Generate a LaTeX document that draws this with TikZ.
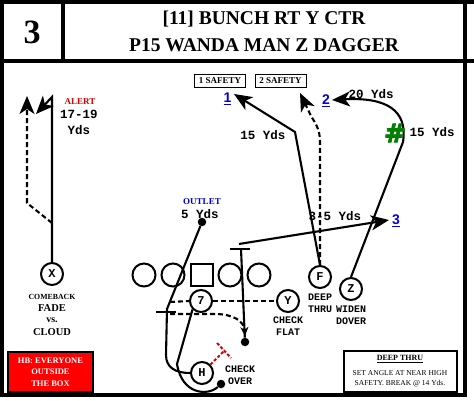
\documentclass[tikz,border=0pt]{standalone}
\usepackage{fontspec}
\setmainfont{Liberation Serif}
\newfontfamily\monofont{Liberation Mono}
\newfontfamily\sansfont{Liberation Sans}
\newfontfamily\heavyfont[FakeBold=3]{DejaVu Sans Bold}
\usetikzlibrary{arrows.meta}
\def\fs#1{\fontsize{#1}{#1}\selectfont}
\tikzset{
  player/.style={draw, circle, line width=2pt, fill=white, minimum size=22pt, inner sep=0pt, font=\monofont\bfseries\fs{12}},
  lineman/.style={draw, circle, line width=2pt, fill=white, minimum size=23pt, inner sep=0pt},
  snapper/.style={draw, line width=2pt, fill=white, minimum size=22pt, inner sep=0pt},
  ballspot/.style={circle, fill=black, minimum size=8.5pt, inner sep=0pt},
  route/.style={line width=2.1pt},
  dashroute/.style={line width=2.1pt, dash pattern=on 5pt off 3pt},
  arrowend/.style={-{Stealth[length=18pt,width=15pt,inset=5pt]}},
  yds/.style={inner sep=0pt, font=\monofont\bfseries\fs{12.5}},
  calltext/.style={inner sep=0pt, font=\monofont\bfseries\fs{10}},
  numlbl/.style={inner sep=0pt, text=blue!85!black, font=\sansfont\bfseries\fs{14}},
  safetybox/.style={draw, line width=0.9pt, minimum width=51pt, minimum height=13pt, inner sep=0pt, font=\bfseries\fs{9}},
  redblock/.style={red!85!black, line width=2pt, dash pattern=on 3pt off 2pt},
}
\begin{document}
\begin{tikzpicture}[x=1pt,y=-1pt]
\useasboundingbox (0,0) rectangle (474,401);
%%%%% FRAME %%%%%
\draw[line width=3.5pt] (2,2) -- (474,2);
\draw[line width=3.5pt] (2,61) -- (474,61);
\draw[line width=3.5pt] (2,2) rectangle (465,395);
\draw[line width=3.5pt] (63,2) -- (63,61);
\node[inner sep=0pt, font=\bfseries\fs{34}] (playnum) at (32,32) {3};
\node[inner sep=0pt, font=\bfseries\fs{19.5}] (titleA) at (264,19) {[11] BUNCH RT Y CTR};
\node[inner sep=0pt, font=\bfseries\fs{19.5}] (titleB) at (264,45) {P15 WANDA MAN Z DAGGER};

%%%%% PLAYERS %%%%%
\foreach \x/\n in {144/a,173/b,230/c,259/d}
  \node[lineman] (ol\n) at (\x,275) {};
\node[snapper] (C) at (202,275) {};
\node[player] (X) at (52,274) {X};
\node[player] (QB) at (201,301) {7};
\node[player] (Y) at (288,301) {Y};
\node[player] (F) at (320,277) {F};
\node[player] (Z) at (351,289) {Z};
\node[player] (H) at (202,373) {H};
\node[ballspot] (outlet) at (202,222) {};
\node[ballspot] (ydot) at (245,342) {};
\node[ballspot] (hdot) at (221,384) {};

%%%%% X %%%%%
\coordinate (xtop) at (52,97);
\coordinate (xend) at (36,114);
\coordinate (xsplit) at (52,223);
\coordinate (xcorner) at (27,203);
\coordinate (xfade) at (27,96);
\draw[route,arrowend] (X.north) -- (xtop) -- (xend);
\draw[dashroute,arrowend] (xsplit) -- (xcorner) -- (xfade);

%%%%% F %%%%%
\coordinate (fbreak) at (295,132);
\coordinate (one) at (234,94);
\coordinate (fstem) at (320,142);
\coordinate (twosafe) at (300,93);
\draw[route,arrowend] (F.north) -- (fbreak) -- (one);
\draw[dashroute,arrowend] (F.north) -- (fstem) .. controls (320,130) and (316,124) .. (311,116) -- (twosafe);

%%%%% Z %%%%%
\coordinate (zbreak) at (403,142);
\coordinate (two) at (332,100);
\draw[route,arrowend] (Z.north) -- (zbreak) .. controls (408,110) and (386,97) .. (two);

%%%%% TE block and 3 %%%%%
\coordinate (tstart) at (239,244);
\coordinate (three) at (389,220);
\coordinate (tleft) at (230,249);
\coordinate (tright) at (250,249);
\coordinate (tmid) at (241,249);
\draw[route,arrowend] (tstart) -- (three);
\draw[route] (tleft) -- (tright);
\draw[route] (tmid) -- (ydot);

%%%%% H and QB %%%%%
\coordinate (hbreak) at (167,309);
\coordinate (hdown) at (166,355);
\coordinate (barl) at (156,312);
\coordinate (barr) at (176,312);
\draw[route] (outlet) -- (hbreak) -- (hdown) .. controls (166,368) and (176,373) .. (H.west);
\draw[route] (barl) -- (barr);
\coordinate (qbdrop) at (177,364);
\draw[route] (QB.south west) -- (qbdrop) .. controls (182,395) and (208,396) .. (hdot);
\coordinate (dashA) at (170,302);
\coordinate (dashB) at (170,314);
\coordinate (curvestart) at (215,314);
\coordinate (curveend) at (245,336);
\draw[dashroute] (dashA) -- (QB.west);
\draw[dashroute] (QB.east) -- (Y.west);
\draw[dashroute,-{Stealth[length=9pt,width=8pt]}] (dashB) -- (curvestart) .. controls (233,314) and (244,321) .. (curveend);
\coordinate (redend) at (224,351);
\coordinate (redl) at (217,343);
\coordinate (redr) at (231,358);
\draw[redblock] (H.north east) -- (redend);
\draw[redblock] (redl) -- (redr);

%%%%% LABELS %%%%%
\node[safetybox] (safeA) at (220,80.5) {1 SAFETY};
\node[safetybox] (safeB) at (280.5,80.5) {2 SAFETY};
\node[numlbl] (numA) at (227.5,99) {\underline{1}};
\node[numlbl] (numB) at (326,101) {\underline{2}};
\node[numlbl] (numC) at (396,221) {\underline{3}};
\node[yds] (ydsA) at (263,135) {15 Yds};
\node[yds] (ydsB) at (371,94) {20 Yds};
\node[yds] (ydsC) at (432,132) {15 Yds};
\node[yds] (ydsD) at (335,216) {3-5 Yds};
\node[yds] (ydsE) at (200,214) {5 Yds};
\node[yds] (ydsF) at (79,114) {17-19};
\node[yds] (ydsG) at (79,130) {Yds};
\node[inner sep=0pt, text=red!85!black, font=\bfseries\fs{9}] (alert) at (80,102) {ALERT};
\node[inner sep=0pt, text=blue!85!black, font=\bfseries\fs{9}] (outlettag) at (202,202) {OUTLET};
\node[inner sep=0pt, text=green!50!black, font=\heavyfont\fs{26}] (hash) at (395,133) {\#};
\node[inner sep=0pt, font=\bfseries\fs{7.8}] (xA) at (52,297) {COMEBACK};
\node[inner sep=0pt, font=\bfseries\fs{10.5}] (xB) at (52,308) {FADE};
\node[inner sep=0pt, font=\bfseries\fs{10}] (xC) at (52,320) {vs.};
\node[inner sep=0pt, font=\bfseries\fs{10.5}] (xD) at (52,332) {CLOUD};
\node[calltext] (yA) at (288,320) {CHECK};
\node[calltext] (yB) at (288,332) {FLAT};
\node[calltext] (fA) at (320,297) {DEEP};
\node[calltext] (fB) at (320,309) {THRU};
\node[calltext] (zA) at (351,309) {WIDEN};
\node[calltext] (zB) at (351,321) {DOVER};
\node[calltext] (hA) at (240,369) {CHECK};
\node[calltext] (hB) at (240,381) {OVER};

%%%%% BOXES %%%%%
\node[draw, fill=red, line width=1.6pt, minimum width=85pt, minimum height=40pt, inner sep=0pt] (hbbox) at (50.5,372) {};
\node[inner sep=0pt, text=white, font=\bfseries\fs{8.5}] (hbA) at (50.5,361) {HB: EVERYONE};
\node[inner sep=0pt, text=white, font=\bfseries\fs{8.5}] (hbB) at (50.5,372) {OUTSIDE};
\node[inner sep=0pt, text=white, font=\bfseries\fs{8.5}] (hbC) at (50.5,384) {THE BOX};
\node[draw, line width=2.2pt, minimum width=113pt, minimum height=41pt, inner sep=0pt] (deepbox) at (400.5,371.5) {};
\node[inner sep=0pt, font=\bfseries\fs{8}] (deepA) at (400,359) {\underline{DEEP THRU}};
\node[inner sep=0pt, font=\fs{7.5}] (deepB) at (400,373) {SET ANGLE AT NEAR HIGH};
\node[inner sep=0pt, font=\fs{7.5}] (deepC) at (400,383.5) {SAFETY. BREAK @ 14 Yds.};
\end{tikzpicture}
\end{document}
